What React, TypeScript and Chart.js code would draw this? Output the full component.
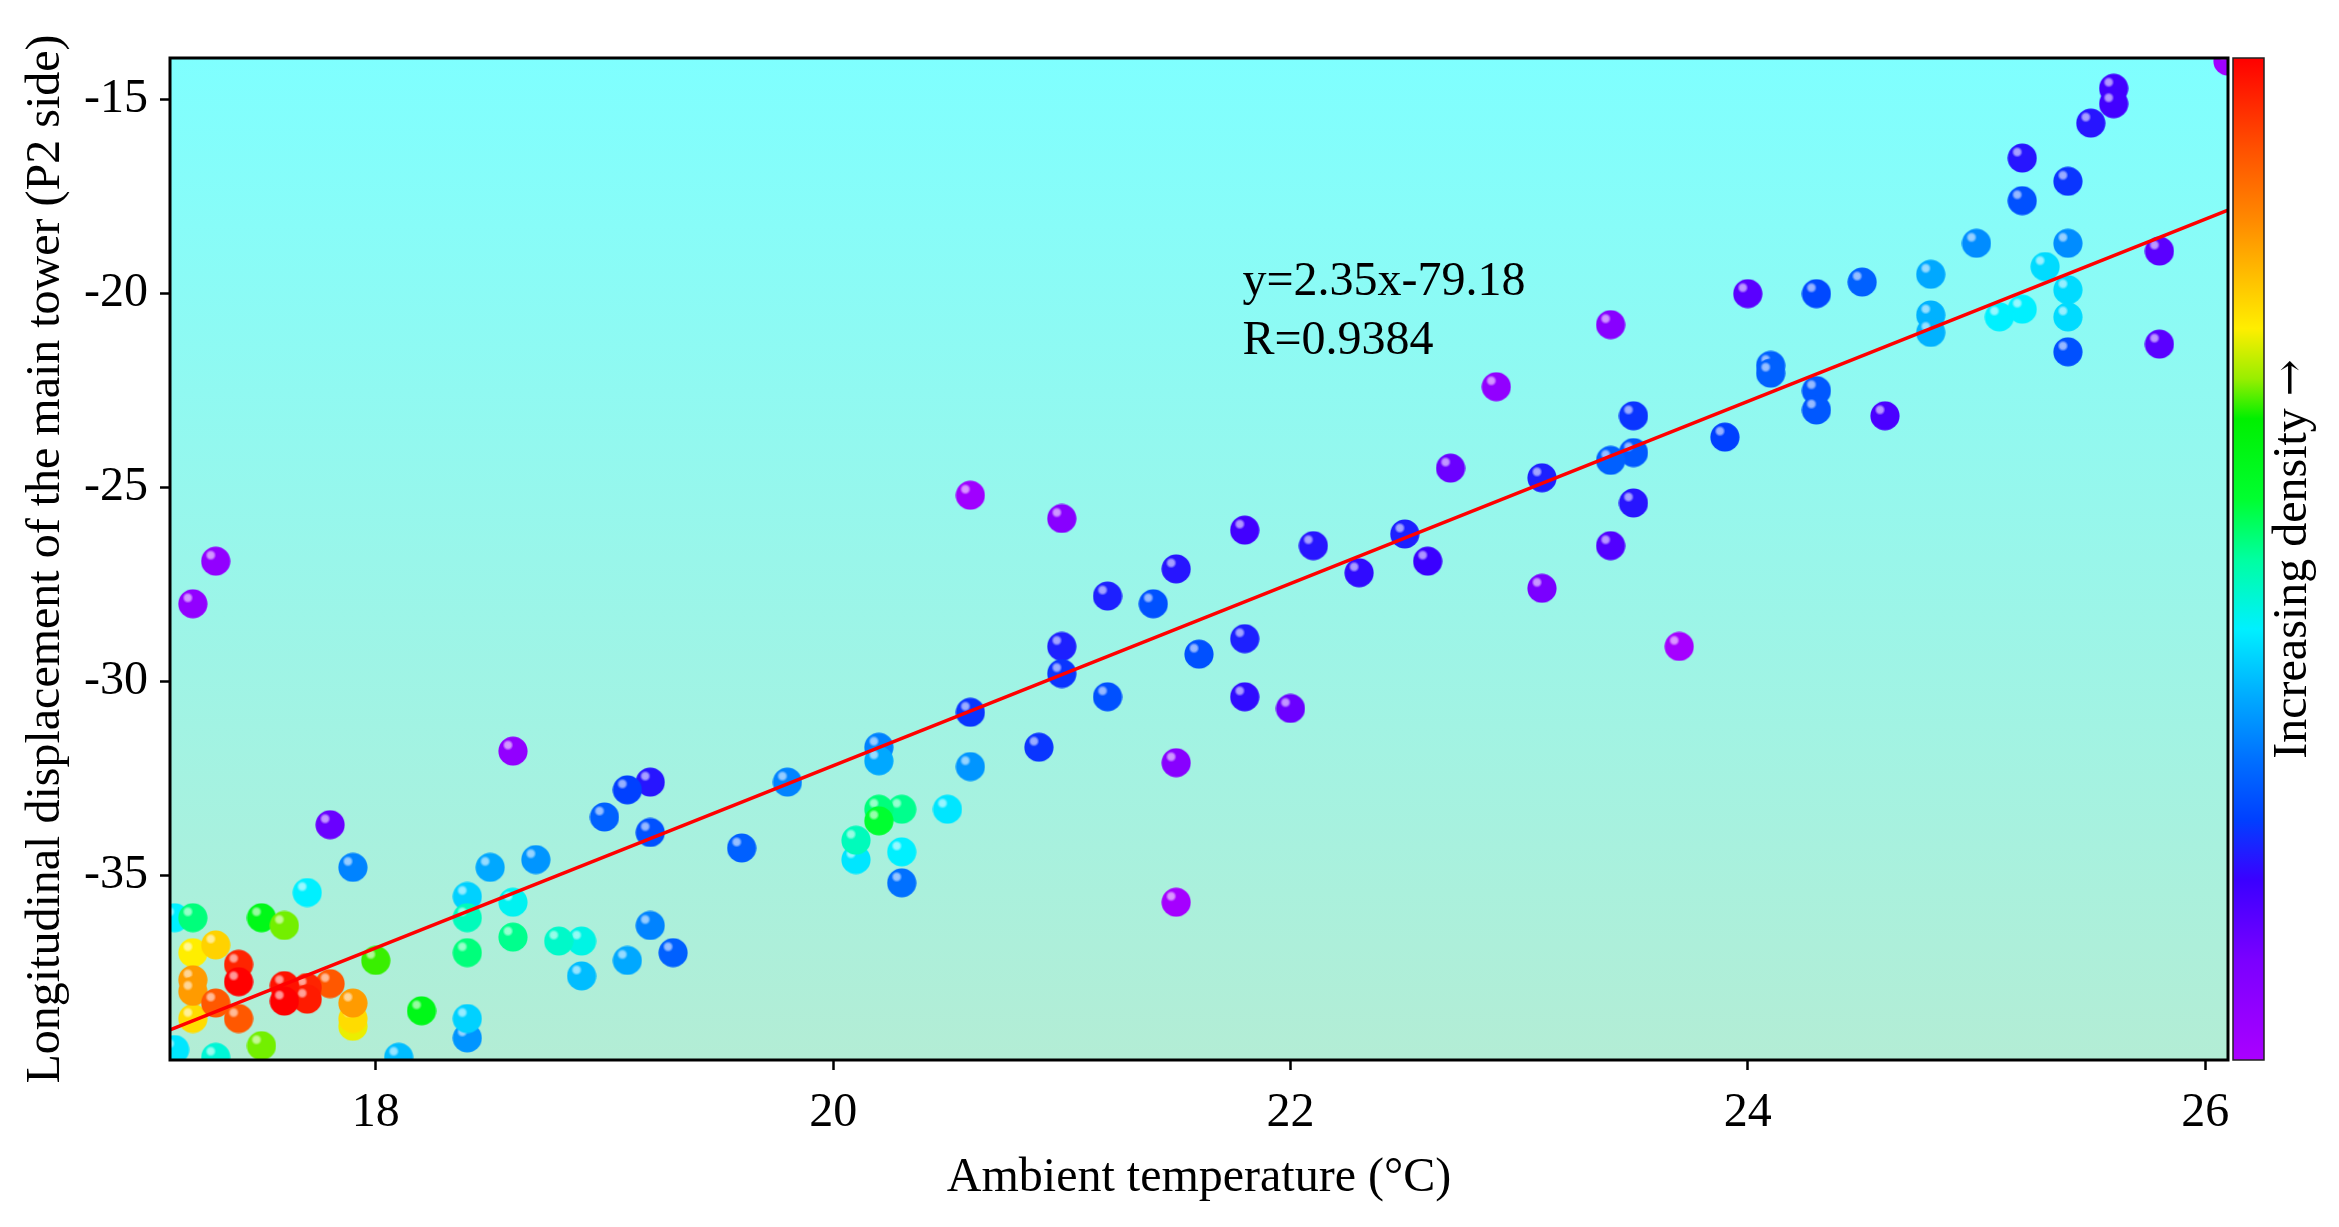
import React, { useEffect, useRef } from 'react';
import { Chart, registerables } from 'chart.js';

Chart.register(...registerables);

// ---------------- data ----------------
const temperature = [
  26.1, 25.6, 25.6, 25.5, 25.2, 25.4, 25.2, 25.0, 25.4, 25.8, 25.3, 24.8, 24.5, 24.3, 24.0, 25.4, 25.2, 25.1, 25.4, 24.8,
  24.8, 23.4, 25.4, 25.8, 24.1, 24.1, 24.3, 24.3, 24.6, 23.5, 23.9, 23.4, 23.5, 23.1, 23.5, 23.4, 23.7,
  20.6, 21.0, 21.8, 22.1, 22.5, 22.7, 22.9, 21.5, 22.3, 22.6, 23.1, 21.2, 21.4, 21.0, 21.0, 21.6, 21.8, 21.2, 21.8, 22.0,
  20.6, 20.2, 20.2, 20.6, 20.9, 21.5, 20.2, 20.2, 20.3, 20.5, 20.1, 20.1, 20.3, 20.3, 21.5,
  17.3, 17.2, 18.6, 17.8, 19.1, 19.2, 19.0, 19.2, 19.8, 19.6, 17.9, 18.5, 18.7, 17.7, 18.4, 18.4, 18.6, 17.12, 17.2, 17.5,
  17.6, 18.6, 18.4, 18.8, 18.9, 19.2, 19.1, 19.3, 18.9, 18.0, 18.2, 18.4, 18.4, 18.1, 17.3, 17.12, 17.5,
  17.3, 17.2, 17.4, 17.4, 17.2, 17.2, 17.3, 17.4, 17.2, 17.6, 17.6, 17.7, 17.7, 17.8, 17.9, 17.9, 17.9,
];

const displacement = [
  -14.0, -14.7, -15.1, -15.6, -16.5, -17.1, -17.6, -18.7, -18.7, -18.9, -19.3, -19.5, -19.7, -20.0, -20.0, -19.9, -20.4, -20.6, -20.6, -20.55,
  -21.0, -20.8, -21.5, -21.3, -21.85, -22.05, -22.5, -23.0, -23.15, -23.15, -23.7, -24.3, -24.1, -24.75, -25.4, -26.5, -29.1,
  -25.2, -25.8, -26.1, -26.5, -26.2, -24.5, -22.4, -27.1, -27.2, -26.9, -27.6, -27.8, -28.0, -29.1, -29.8, -29.3, -28.9, -30.4, -30.4, -30.7,
  -30.8, -31.7, -32.05, -32.2, -31.7, -32.1, -33.3, -33.6, -33.3, -33.3, -34.1, -34.6, -34.4, -35.2, -35.7,
  -26.9, -28.0, -31.8, -33.7, -32.8, -32.6, -33.5, -33.9, -32.6, -34.3, -34.8, -34.8, -34.6, -35.45, -35.55, -36.1, -35.7, -36.1, -36.1, -36.1,
  -36.3, -36.6, -37.0, -36.7, -36.7, -36.3, -37.2, -37.0, -37.6, -37.2, -38.5, -38.7, -39.2, -39.7, -39.7, -39.5, -39.4,
  -36.8, -37.0, -37.3, -37.75, -37.7, -38.0, -38.3, -38.7, -38.7, -37.85, -38.25, -37.9, -38.2, -37.8, -38.3, -38.7, -38.9,
];

// relative point density (0 = lowest, 1 = highest)
const density = [
  0.02, 0.17, 0.17, 0.2, 0.2, 0.23, 0.26, 0.33, 0.33, 0.14, 0.41, 0.36, 0.28, 0.25, 0.14, 0.41, 0.43, 0.43, 0.41, 0.37,
  0.37, 0.07, 0.26, 0.14, 0.28, 0.28, 0.27, 0.27, 0.16, 0.23, 0.24, 0.28, 0.27, 0.21, 0.2, 0.15, 0.01,
  0.02, 0.07, 0.17, 0.2, 0.21, 0.12, 0.05, 0.2, 0.19, 0.18, 0.1, 0.21, 0.26, 0.21, 0.23, 0.26, 0.21, 0.26, 0.19, 0.12,
  0.23, 0.32, 0.36, 0.34, 0.23, 0.07, 0.52, 0.56, 0.51, 0.42, 0.48, 0.42, 0.43, 0.3, 0.01,
  0.05, 0.05, 0.05, 0.12, 0.24, 0.2, 0.28, 0.26, 0.32, 0.28, 0.32, 0.36, 0.34, 0.43, 0.4, 0.48, 0.44, 0.43, 0.52, 0.6,
  0.67, 0.51, 0.52, 0.47, 0.45, 0.32, 0.36, 0.28, 0.38, 0.655, 0.6, 0.4, 0.34, 0.38, 0.46, 0.42, 0.67,
  0.76, 0.73, 0.96, 1.0, 0.82, 0.82, 0.9, 0.9, 0.75, 0.98, 1.0, 0.96, 0.97, 0.9, 0.82, 0.75, 0.72,
];

const xTicks = [18, 20, 22, 24, 26];
const yTicks = [-35, -30, -25, -20, -15];
const xRange = [17.1, 26.1];
const yRange = [-39.77, -13.92];
const fitSlope = 2.35;
const fitIntercept = -79.18;
const equationLines = ['y=2.35x-79.18', 'R=0.9384'];
const equationAnchor = [21.79, -20.03];

const xTitle = 'Ambient temperature (°C)';
const yTitle = 'Longitudinal displacement of the main tower (P2 side)';
const colorbarTitle = 'Increasing density ';
const colorbarArrow = '→';

// ---------------- styles ----------------
const FONT = "'Liberation Serif', 'Times New Roman', serif";
const ARROW_FONT = "'DejaVu Serif', 'Liberation Serif', serif";
const colorStops: [number, string][] = [
  [0.0, '#AA00FF'],
  [0.1, '#7A00FF'],
  [0.18, '#3A00FF'],
  [0.24, '#0040FF'],
  [0.3, '#0070FF'],
  [0.36, '#00A8FF'],
  [0.43, '#00F0FF'],
  [0.5, '#00FFA0'],
  [0.56, '#00FF30'],
  [0.64, '#00F000'],
  [0.68, '#99EE00'],
  [0.73, '#FFEE00'],
  [0.78, '#FFC000'],
  [0.84, '#FF8800'],
  [0.91, '#FF5000'],
  [1.0, '#FF0000'],
];

function hexToRgb(h: string): number[] {
  const v = parseInt(h.slice(1), 16);
  return [(v >> 16) & 255, (v >> 8) & 255, v & 255];
}

function colorAt(t: number): number[] {
  for (let i = 1; i < colorStops.length; i++) {
    const [p1, c1] = colorStops[i];
    const [p0, c0] = colorStops[i - 1];
    if (t <= p1) {
      const f = p1 === p0 ? 0 : (t - p0) / (p1 - p0);
      const a = hexToRgb(c0);
      const b = hexToRgb(c1);
      return a.map((v, k) => Math.round(v + (b[k] - v) * f));
    }
  }
  return hexToRgb(colorStops[colorStops.length - 1][1]);
}

function makeBall(rgb: number[]): HTMLCanvasElement {
  const size = 30;
  const c = document.createElement('canvas');
  c.width = size;
  c.height = size;
  const g = c.getContext('2d') as CanvasRenderingContext2D;
  const [r, gg, b] = rgb;
  g.beginPath();
  g.arc(size / 2, size / 2, 14.6, 0, Math.PI * 2);
  g.fillStyle = `rgb(${r},${gg},${b})`;
  g.fill();
  const hl = [r, gg, b].map((v) => Math.round(v + (255 - v) * 0.62));
  const rg = g.createRadialGradient(10, 9, 0, 10, 9, 5.5);
  rg.addColorStop(0, `rgba(${hl[0]},${hl[1]},${hl[2]},1)`);
  rg.addColorStop(0.55, `rgba(${hl[0]},${hl[1]},${hl[2]},0.9)`);
  rg.addColorStop(1, `rgba(${hl[0]},${hl[1]},${hl[2]},0)`);
  g.fillStyle = rg;
  g.beginPath();
  g.arc(10, 9, 5.5, 0, Math.PI * 2);
  g.fill();
  return c;
}

export default function App() {
  const ref = useRef<HTMLCanvasElement | null>(null);

  useEffect(() => {
    const canvas = ref.current;
    if (!canvas) return;

    // draw low density first, high density on top
    const order = temperature.map((_, i) => i).sort((a, b) => density[a] - density[b]);
    const points = order.map((i) => ({ x: temperature[i], y: displacement[i] }));
    const balls = order.map((i) => makeBall(colorAt(density[i])));

    const fitLine = xRange.map((x) => ({ x, y: fitSlope * x + fitIntercept }));

    const decor = {
      id: 'decor',
      beforeDraw(chart: any) {
        const { ctx, chartArea: a } = chart;
        ctx.save();
        const grad = ctx.createLinearGradient(0, a.top, 0, a.bottom);
        grad.addColorStop(0, '#7FFFFF');
        grad.addColorStop(1, '#B3EDD5');
        ctx.fillStyle = grad;
        ctx.fillRect(a.left, a.top, a.right - a.left, a.bottom - a.top);
        ctx.restore();
      },
      afterDraw(chart: any) {
        const { ctx, chartArea: a, scales } = chart;
        ctx.save();
        // panel border
        ctx.strokeStyle = '#000';
        ctx.lineWidth = 3;
        ctx.strokeRect(a.left, a.top, a.right - a.left, a.bottom - a.top);

        // equation
        ctx.fillStyle = '#000';
        ctx.font = `48px ${FONT}`;
        ctx.textAlign = 'left';
        ctx.textBaseline = 'alphabetic';
        const ex = scales.x.getPixelForValue(equationAnchor[0]);
        const ey = scales.y.getPixelForValue(equationAnchor[1]);
        equationLines.forEach((t, i) => ctx.fillText(t, ex, ey + i * 59));

        // colour bar
        const bx = a.right + 5;
        const bw = 31;
        const cg = ctx.createLinearGradient(0, a.bottom, 0, a.top);
        colorStops.forEach(([p, c]) => cg.addColorStop(p, c));
        ctx.fillStyle = cg;
        ctx.fillRect(bx, a.top, bw, a.bottom - a.top);
        ctx.lineWidth = 1.5;
        ctx.strokeStyle = '#222';
        ctx.strokeRect(bx, a.top, bw, a.bottom - a.top);

        ctx.translate(bx + bw + 29, (a.top + a.bottom) / 2);
        ctx.rotate(-Math.PI / 2);
        ctx.fillStyle = '#000';
        ctx.textBaseline = 'middle';
        ctx.textAlign = 'left';
        ctx.font = `48px ${FONT}`;
        const w1 = ctx.measureText(colorbarTitle).width;
        ctx.font = `44px ${ARROW_FONT}`;
        const w2 = ctx.measureText(colorbarArrow).width;
        const start = -(w1 + w2) / 2;
        ctx.font = `48px ${FONT}`;
        ctx.fillText(colorbarTitle, start, 0);
        ctx.font = `44px ${ARROW_FONT}`;
        ctx.fillText(colorbarArrow, start + w1, 0);
        ctx.restore();
      },
    };

    const chart = new Chart(canvas, {
      type: 'scatter',
      data: {
        datasets: [
          {
            type: 'line',
            data: fitLine,
            borderColor: '#FF0000',
            borderWidth: 3.5,
            pointRadius: 0,
            fill: false,
            order: 0,
            clip: 0,
          } as any,
          {
            type: 'scatter',
            data: points,
            pointRadius: 15,
            pointStyle: (c: any) => balls[c.dataIndex],
            order: 1,
            clip: 0,
          } as any,
        ],
      },
      options: {
        responsive: false,
        animation: false,
        events: [],
        layout: { padding: { top: 58, right: 111, left: 0, bottom: 0 } },
        plugins: { legend: { display: false }, tooltip: { enabled: false } },
        scales: {
          x: {
            type: 'linear',
            position: 'bottom',
            min: xRange[0],
            max: xRange[1],
            afterBuildTicks: (s: any) => {
              s.ticks = xTicks.map((v) => ({ value: v }));
            },
            afterFit: (s: any) => {
              s.height = 167;
            },
            grid: {
              display: true,
              drawOnChartArea: false,
              drawTicks: true,
              tickLength: 10,
              tickColor: '#000',
              tickWidth: 2.5,
            },
            border: { display: false },
            ticks: {
              color: '#000',
              padding: 15,
              font: { family: FONT, size: 48 },
              maxRotation: 0,
              callback: (v: any) => String(v),
            },
            title: {
              display: true,
              text: xTitle,
              color: '#000',
              font: { family: FONT, size: 48 },
              padding: { top: 0, bottom: 20 },
            },
          },
          y: {
            type: 'linear',
            position: 'left',
            min: yRange[0],
            max: yRange[1],
            afterBuildTicks: (s: any) => {
              s.ticks = yTicks.map((v) => ({ value: v }));
            },
            afterFit: (s: any) => {
              s.width = 170;
            },
            grid: {
              display: true,
              drawOnChartArea: false,
              drawTicks: true,
              tickLength: 10,
              tickColor: '#000',
              tickWidth: 2.5,
            },
            border: { display: false },
            ticks: {
              color: '#000',
              padding: 12,
              font: { family: FONT, size: 48 },
              callback: (v: any) => String(v),
            },
            title: {
              display: true,
              text: yTitle,
              color: '#000',
              font: { family: FONT, size: 48 },
              padding: { top: 18, bottom: 0 },
            },
          },
        },
      },
      plugins: [decor],
    });

    return () => chart.destroy();
  }, []);

  return (
    <div style={{ position: 'absolute', left: 0, top: 0, width: 2339, height: 1227, background: '#fff' }}>
      <canvas ref={ref} width={2339} height={1227} style={{ display: 'block', width: 2339, height: 1227 }} />
    </div>
  );
}
